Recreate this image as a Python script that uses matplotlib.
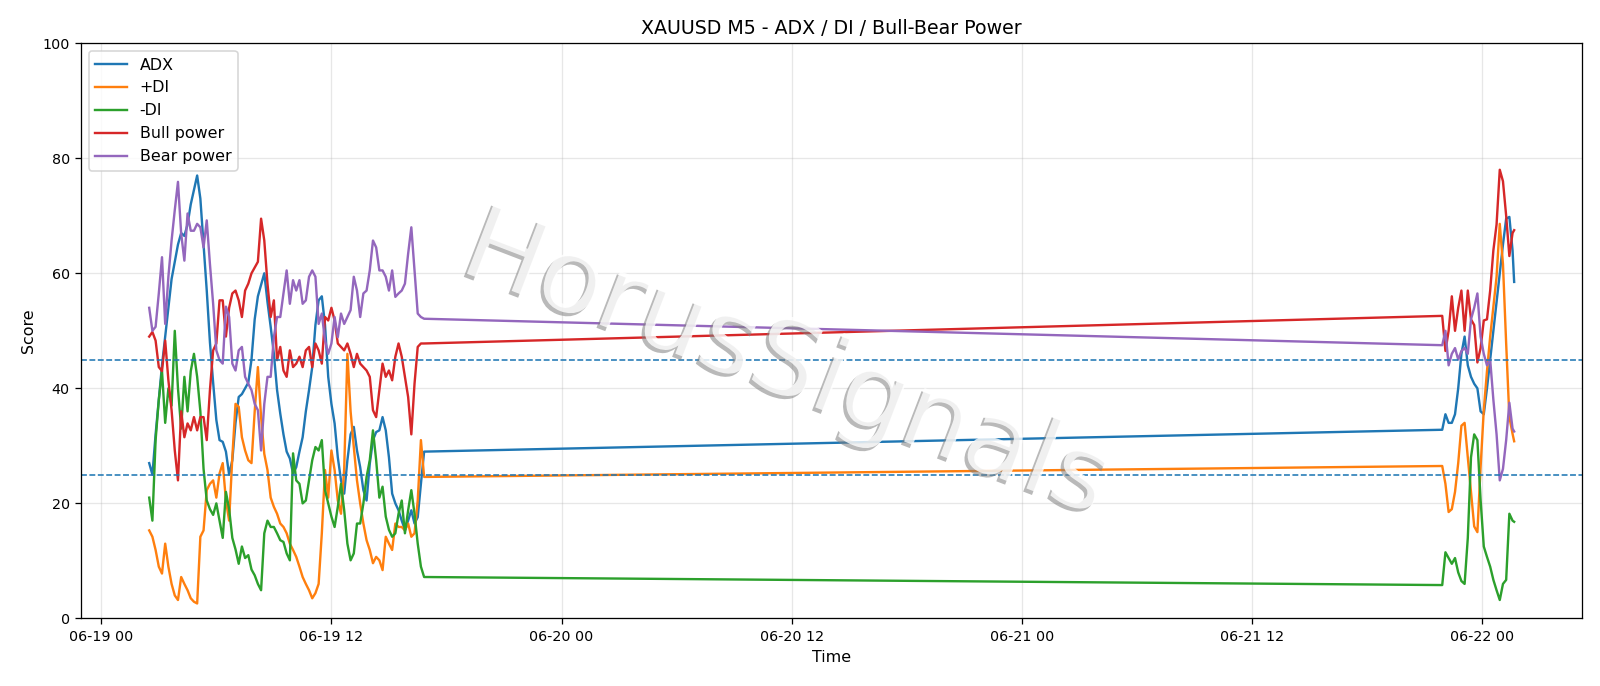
import pandas as pd
import matplotlib
matplotlib.use("Agg")
import matplotlib.pyplot as plt
import matplotlib.dates as mdates
import matplotlib.patheffects as pe

# time axis: friday session, weekend gap, sunday reopen (10 min samples of M5 data)
seg1 = pd.date_range("2025-06-19 02:30", "2025-06-19 16:50", freq="10min")
seg2 = pd.date_range("2025-06-21 21:55", "2025-06-22 01:35", freq="10min")
times = seg1.append(seg2).append(pd.DatetimeIndex(["2025-06-22 01:40"]))

adx = [27, 25, 32, 38, 44, 49, 54, 59, 62, 65, 67, 66.5, 68.5, 72, 74.5, 77,
       73, 65, 57, 48, 41, 34.5, 31, 30.7, 29, 25, 27.5, 34, 38.5, 39, 40, 41, 45, 52,
       56, 58, 60, 55, 50.7, 46, 39.7, 35.6, 32, 29, 27.8, 25.2, 26.3, 29, 31.5, 36, 39.7, 43.7,
       51, 55.3, 56, 51, 42, 37.3, 33.9, 28, 24, 21.7, 27.5, 32, 33.3, 29.2, 26.3, 22.3, 20.5,
       26.9, 31, 32.4, 32.7, 35, 32.7, 28, 21.7, 20, 18.8, 17, 15.4, 17, 18.8, 16.5, 17.6, 23.4, 29,
       32.8, 35.5, 34, 34, 35.5, 40, 46, 49, 44, 42, 40.8, 40, 36, 35.5, 40, 45, 50, 55, 60, 65,
       69.5, 69.8, 64, 58.5]
plus_di = [15.3, 14.2, 11.9, 9, 7.8, 13, 9, 6, 4, 3.2, 7.2, 6, 4.9, 3.5, 2.9, 2.6,
           14.2, 15.3, 22.3, 23.4, 24, 21, 25.2, 27, 20.5, 17, 28, 37.3, 36.8, 31.5, 29.2, 27.5, 27, 36,
           43.7, 35, 28.6, 25.8, 21, 19.4, 18.2, 16.5, 15.9, 14.8, 13, 11.9, 10.7, 9, 7.2, 6, 4.9, 3.5,
           4.4, 6, 14.8, 25.8, 21, 29.2, 25.8, 20.5, 18.2, 26, 46, 36, 29.8, 24, 20, 16.5, 13.6,
           11.9, 9.6, 10.7, 10.1, 8.4, 14.2, 13, 11.9, 16.5, 15.9, 15.9, 15.3, 16.5, 14.2, 14.8, 20.5, 31, 24.6,
           26.5, 23.4, 18.5, 19, 22, 27, 33.5, 34, 28, 22, 16, 15, 26.3, 36.2, 43, 49, 54.2, 59.4,
           68.6, 61.6, 47.8, 35, 32.1, 30.8]
minus_di = [21, 17, 31, 38, 43, 34, 40, 37, 50, 40, 33, 42, 36, 43, 46, 42,
            36, 26, 20.5, 19, 18, 20, 17, 14, 22, 19, 14, 12, 9.5, 12.5, 10.5, 11, 8.5, 7.5,
            6, 4.9, 14.8, 17, 15.9, 15.9, 14.8, 13.6, 13.3, 11.3, 10.1, 28.7, 24, 23.4, 20, 20.5, 24, 27.5,
            29.8, 29.2, 31, 22.3, 20, 17.7, 15.9, 19.4, 23.4, 18.8, 13, 10.1, 11.3, 16.5, 16.5, 20, 24.6,
            27.5, 32.7, 27.5, 21, 22.9, 17.7, 15.4, 14.2, 14.8, 18.2, 20.5, 14.8, 18.8, 22.3, 18.2, 13, 9, 7.2,
            5.8, 11.5, 10.5, 9.5, 10.5, 8, 6.5, 6, 14, 28, 32, 31, 20.6, 12.5, 10.7, 9, 6.7, 4.9,
            3.2, 6, 6.7, 18.2, 17, 16.8]
bull = [49, 49.8, 48.3, 43.7, 43, 48.3, 41.4, 36.2, 29.2, 24, 36, 31.5, 33.9, 32.7, 35, 32.7,
        35, 35, 31, 39.7, 46.6, 47.8, 55.3, 55.3, 49, 54, 56.5, 57, 55.3, 52.4, 57, 58.2, 60, 61,
        62, 69.5, 65.7, 58.2, 52.4, 55.3, 44.9, 47.2, 43.1, 42, 46.6, 43.7, 44.3, 45.5, 43.7, 46.6, 47.2, 43.7,
        47.8, 46.6, 44.3, 52.4, 51.8, 54, 51.8, 47.8, 47.2, 46.6, 47.8, 46, 43.7, 46, 44.3, 43.7, 43.1,
        42, 36.2, 35, 39.7, 44.3, 42, 43.1, 41.4, 45.5, 47.8, 45.5, 42, 38.5, 32, 40.8, 47.2, 47.8, 47.8,
        52.6, 46.5, 50, 56, 50, 54, 57, 50, 57, 52, 51, 44.5, 47, 51.8, 52, 57, 64, 68.5,
        78, 76, 70, 63, 67, 67.5]
bear = [54, 50, 50.7, 56.5, 62.8, 51.2, 59.4, 65.7, 71, 75.9, 66.9, 62.2, 70.4, 67.4, 67.4, 68.6,
        68, 64.5, 69.2, 61.6, 54.7, 46.6, 44.9, 44.3, 54.2, 52.4, 44.3, 43.1, 46.6, 47.2, 42, 40.8, 39.7, 37.3,
        36.2, 29.2, 37.3, 42, 42, 48.9, 52.4, 52.4, 56.5, 60.5, 54.7, 58.8, 57, 58.8, 54.7, 55.3, 59.4, 60.5,
        59.4, 51.2, 53, 48.3, 46, 47.8, 52.4, 48.9, 53, 51.2, 52.4, 53.6, 59.4, 57, 52.4, 56.5, 57,
        60.5, 65.7, 64.5, 60.5, 60.5, 59.4, 57, 60.5, 55.9, 56.5, 57, 58.2, 63.4, 68, 60.5, 53, 52.4, 52.1,
        47.5, 50, 44, 46, 47, 45, 46.5, 47, 46, 52, 54, 56.5, 49, 46, 44, 45, 38, 32,
        24, 26, 31, 37.5, 33, 32.5]

series = [("ADX", adx), ("+DI", plus_di), ("-DI", minus_di),
          ("Bull power", bull), ("Bear power", bear)]

DPI = 1600 / 14
fig, ax = plt.subplots(figsize=(14, 686 / DPI), dpi=DPI)
for name, vals in series:
    ax.plot(times, vals, label=name)

ax.axhline(45, linestyle="--", linewidth=1)
ax.axhline(25, linestyle="--", linewidth=1)

ax.set_ylim(0, 100)
ax.set_title("XAUUSD M5 - ADX / DI / Bull-Bear Power")
ax.set_xlabel("Time")
ax.set_ylabel("Score")
ax.grid(True, alpha=0.3)
ax.legend(loc="upper left")
ax.tick_params(labelsize=9)
ax.xaxis.set_major_locator(mdates.HourLocator(byhour=[0, 12]))
ax.xaxis.set_major_formatter(mdates.DateFormatter("%m-%d %H"))

# watermark: white letters with a grey drop shadow
ax.text(0.47, 0.44, "HorusSignals", transform=ax.transAxes, fontsize=66,
        color="white", alpha=0.8, rotation=-21, ha="center", va="center", zorder=5,
        path_effects=[pe.SimplePatchShadow(offset=(-2, -2), shadow_rgbFace="#808080", alpha=0.55),
                      pe.Normal()])

fig.subplots_adjust(left=0.0506, right=0.989, top=0.937, bottom=0.0985)
fig.savefig("out.png", dpi=DPI)
